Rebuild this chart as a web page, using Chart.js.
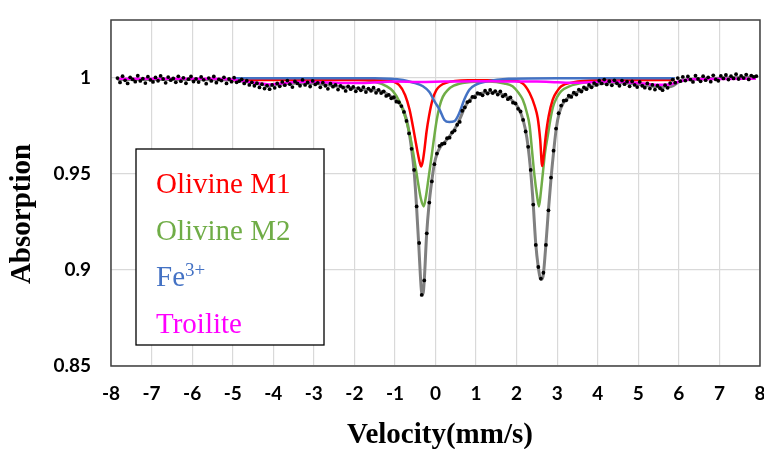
<!DOCTYPE html>
<html><head><meta charset="utf-8">
<script src="https://cdn.jsdelivr.net/npm/chart.js@4.4.0/dist/chart.umd.min.js"></script>
<style>html,body{margin:0;padding:0;background:#fff;}</style>
</head><body>
<canvas id="c" width="764" height="449" style="display:block;width:764px;height:449px"></canvas>
<script>
// ---- data ----
const xTicks = [-8,-7,-6,-5,-4,-3,-2,-1,0,1,2,3,4,5,6,7,8];
const yTicks = [0.85,0.9,0.95,1];
// channel velocities: first channel and channel width (mm/s)
const velStart = -7.84, velStep = 0.0625;
const measured = [
 0.9998,0.9975,1.0008,0.9986,0.9970,1.0002,0.9991,0.9979,1.0010,0.9983,0.9995,0.9972,1.0005,0.9988,0.9978,1.0001,
 0.9984,1.0009,0.9993,0.9973,1.0003,0.9987,0.9996,0.9976,1.0007,0.9982,0.9999,0.9971,0.9992,1.0006,0.9980,0.9994,
 0.9977,1.0004,0.9989,0.9969,0.9998,0.9983,1.0006,0.9974,0.9991,0.9985,1.0002,0.9970,0.9993,0.9979,1.0000,0.9976,
 0.9982,0.9991,0.9970,0.9984,0.9962,0.9976,0.9958,0.9971,0.9949,0.9966,0.9943,0.9958,0.9940,0.9962,0.9947,0.9970,
 0.9955,0.9978,0.9961,0.9985,0.9966,0.9951,0.9980,0.9970,0.9958,0.9988,0.9962,0.9975,0.9954,0.9983,0.9965,0.9973,
 0.9950,0.9974,0.9958,0.9942,0.9969,0.9953,0.9962,0.9938,0.9957,0.9948,0.9931,0.9955,0.9940,0.9952,0.9929,0.9946,
 0.9934,0.9951,0.9925,0.9943,0.9932,0.9948,0.9921,0.9936,0.9920,0.9929,0.9905,0.9910,0.9893,0.9898,0.9875,0.9872,
 0.9852,0.9822,0.9775,0.9710,0.9630,0.9520,0.9330,0.9140,0.8870,0.8945,0.9190,0.9350,0.9460,0.9550,0.9605,0.9645,
 0.9655,0.9658,0.9685,0.9688,0.9715,0.9725,0.9755,0.9770,0.9828,0.9845,0.9873,0.9878,0.9900,0.9898,0.9920,0.9916,
 0.9908,0.9932,0.9917,0.9936,0.9920,0.9930,0.9912,0.9928,0.9903,0.9912,0.9888,0.9897,0.9870,0.9866,0.9838,0.9824,
 0.9780,0.9720,0.9640,0.9520,0.9340,0.9130,0.9015,0.8955,0.8985,0.9130,0.9310,0.9480,0.9620,0.9735,0.9815,0.9855,
 0.9880,0.9882,0.9906,0.9900,0.9922,0.9912,0.9938,0.9928,0.9950,0.9940,0.9962,0.9950,0.9972,0.9962,0.9984,0.9970,
 0.9990,0.9965,0.9982,0.9960,0.9986,0.9971,0.9958,0.9985,0.9966,0.9979,0.9955,0.9980,0.9962,0.9951,0.9978,0.9958,
 0.9948,0.9970,0.9943,0.9962,0.9938,0.9958,0.9945,0.9935,0.9961,0.9947,0.9972,0.9990,0.9974,0.9998,0.9982,1.0004,
 0.9985,1.0006,0.9990,0.9978,1.0010,0.9993,0.9981,1.0008,0.9987,1.0002,0.9979,1.0012,0.9991,0.9984,1.0009,0.9996,
 1.0014,0.9990,1.0008,0.9996,1.0018,0.9993,1.0009,0.9998,1.0016,0.9991,1.0011,1.0004,1.0008
];
const fitTotal = [[-7.84,0.9991],[-6.0,0.9991],[-5.0,0.9988],[-4.6,0.9978],[-4.3,0.9965],[-4.1,0.9958],[-3.9,0.9965],[-3.5,0.9971],[-3.0,0.9970],[-2.6,0.9960],[-2.2,0.9950],[-1.8,0.9940],[-1.5,0.9935],[-1.25,0.9922],[-1.05,0.9895],[-0.9,0.9870],[-0.8,0.9835],[-0.72,0.9785],[-0.65,0.9715],[-0.59,0.9630],[-0.53,0.9520],[-0.47,0.9340],[-0.41,0.9120],[-0.37,0.8960],[-0.34,0.8880],[-0.31,0.8875],[-0.28,0.8935],[-0.22,0.9180],[-0.16,0.9340],[-0.09,0.9465],[-0.03,0.9550],[0.04,0.9605],[0.12,0.9640],[0.25,0.9670],[0.4,0.9710],[0.52,0.9750],[0.62,0.9795],[0.72,0.9845],[0.85,0.9885],[1.0,0.9910],[1.2,0.9922],[1.45,0.9924],[1.7,0.9908],[1.9,0.9880],[2.05,0.9840],[2.16,0.9780],[2.25,0.9690],[2.33,0.9550],[2.41,0.9340],[2.47,0.9140],[2.53,0.9020],[2.60,0.8950],[2.65,0.8965],[2.71,0.9100],[2.78,0.9300],[2.85,0.9480],[2.92,0.9630],[2.98,0.9740],[3.05,0.9815],[3.15,0.9868],[3.3,0.9900],[3.5,0.9925],[3.8,0.9953],[4.1,0.9970],[4.5,0.9973],[4.9,0.9968],[5.3,0.9956],[5.6,0.9951],[5.85,0.9958],[6.0,0.9978],[6.3,0.9992],[7.0,0.9997],[7.9,1.0004]];
const olivineM1 = [[-5.0,0.9988],[-2.0,0.9988],[-1.2,0.9985],[-0.9,0.9962],[-0.75,0.9910],[-0.64,0.9834],[-0.56,0.9750],[-0.5,0.9680],[-0.44,0.9610],[-0.39,0.9560],[-0.35,0.9538],[-0.31,0.9570],[-0.27,0.9630],[-0.22,0.9720],[-0.16,0.9800],[-0.08,0.9880],[0.02,0.9935],[0.26,0.9973],[0.8,0.9986],[1.8,0.9986],[2.15,0.9970],[2.32,0.9920],[2.45,0.9850],[2.52,0.9790],[2.58,0.9680],[2.63,0.9540],[2.67,0.9600],[2.72,0.9700],[2.79,0.9800],[2.89,0.9886],[3.0,0.9930],[3.1,0.9955],[3.38,0.9975],[4.0,0.9986],[5.9,0.9988]];
const olivineM2 = [[-5.0,0.9992],[-2.0,0.9990],[-1.5,0.9978],[-1.2,0.9955],[-1.05,0.9930],[-0.9,0.9880],[-0.8,0.9830],[-0.7,0.9760],[-0.62,0.9690],[-0.55,0.9610],[-0.48,0.9520],[-0.42,0.9440],[-0.36,0.9370],[-0.29,0.9330],[-0.23,0.9390],[-0.17,0.9480],[-0.11,0.9570],[-0.04,0.9680],[0.03,0.9780],[0.1,0.9850],[0.18,0.9900],[0.3,0.9935],[0.45,0.9958],[0.76,0.9975],[1.3,0.9980],[1.7,0.9970],[1.9,0.9955],[2.05,0.9920],[2.15,0.9886],[2.25,0.9820],[2.32,0.9750],[2.38,0.9620],[2.44,0.9490],[2.5,0.9390],[2.55,0.9330],[2.6,0.9410],[2.65,0.9510],[2.7,0.9610],[2.77,0.9700],[2.83,0.9780],[2.9,0.9850],[3.0,0.9900],[3.1,0.9930],[3.3,0.9955],[3.7,0.9975],[4.5,0.9988],[5.9,0.9992]];
const fe3 = [[-5.0,0.9997],[-1.5,0.9997],[-0.8,0.9988],[-0.56,0.9975],[-0.31,0.9955],[-0.15,0.9925],[-0.02,0.9875],[0.1,0.9834],[0.22,0.9780],[0.34,0.9769],[0.47,0.9774],[0.59,0.9817],[0.71,0.9886],[0.84,0.9938],[1.0,0.9964],[1.25,0.9980],[1.8,0.9994],[3.0,0.9997],[5.9,0.9997]];
const troilite = [[-7.8,0.9995],[-5.5,0.9994],[-5.0,0.9990],[-4.7,0.9980],[-4.4,0.9972],[-4.1,0.9965],[-3.8,0.9970],[-3.4,0.9978],[-3.0,0.9978],[-2.6,0.9975],[-2.2,0.9972],[-1.8,0.9972],[-1.4,0.9976],[-1.0,0.9980],[-0.4,0.9978],[0.2,0.9980],[1.0,0.9982],[1.8,0.9980],[2.5,0.9980],[3.0,0.9976],[3.4,0.9973],[3.8,0.9976],[4.3,0.9980],[4.8,0.9975],[5.2,0.9968],[5.5,0.9963],[5.8,0.9966],[6.0,0.9980],[6.3,0.9992],[7.9,0.9995]];
const legendItems = [["Olivine M1","#FF0000"],["Olivine M2","#70AD47"],["Fe","#4472C4","3+"],["Troilite","#FF00FF"]];

const toXY = arr => arr.map(p => ({x:p[0], y:p[1]}));
const measuredXY = measured.map((a,i) => ({x: velStart + i*velStep, y: a}));

const lineDs = (label, data, color, order, width) => ({
  label, data: toXY(data), borderColor: color, backgroundColor: color,
  borderWidth: width, pointRadius: 0, fill: false,
  cubicInterpolationMode: 'monotone', order
});

const overlay = {
  id: 'overlay',
  afterDraw(chart) {
    const {ctx, chartArea: a} = chart;
    ctx.save();
    ctx.strokeStyle = '#404040'; ctx.lineWidth = 1.5;
    ctx.strokeRect(a.left, a.top, a.right - a.left, a.bottom - a.top);
    ctx.fillStyle = '#fff';
    ctx.fillRect(136, 149, 188, 196);
    ctx.strokeStyle = '#000'; ctx.lineWidth = 1.3;
    ctx.strokeRect(136, 149, 188, 196);
    const baselines = [193, 240, 286, 333];
    ctx.textAlign = 'left'; ctx.textBaseline = 'alphabetic';
    legendItems.forEach((it, i) => {
      ctx.font = '29px "Liberation Serif", "Times New Roman", serif';
      ctx.fillStyle = it[1];
      ctx.fillText(it[0], 156, baselines[i]);
      if (it[2]) {
        const w = ctx.measureText(it[0]).width;
        ctx.font = '19px "Liberation Serif", "Times New Roman", serif';
        ctx.fillText(it[2], 156 + w, baselines[i] - 10);
      }
    });
    ctx.fillStyle = '#000';
    ctx.font = 'bold 29px "Liberation Serif", "Times New Roman", serif';
    ctx.textAlign = 'center'; ctx.textBaseline = 'middle';
    ctx.fillText('Velocity(mm/s)', 440, 436);
    ctx.translate(23, 214);
    ctx.rotate(-Math.PI/2);
    ctx.fillText('Absorption', 0, 0);
    ctx.restore();
  }
};

const tickFont = {family: 'Lato, "Open Sans", sans-serif', size: 19, weight: 'bold'};

new Chart(document.getElementById('c'), {
  type: 'line',
  data: {
    datasets: [
      {label:'Data', data: measuredXY, showLine:false, pointRadius:1.9, pointHoverRadius:0,
       pointBackgroundColor:'#000', pointBorderWidth:0, borderColor:'#000', order:1},
      lineDs('Troilite', troilite, '#FF00FF', 2, 2.5),
      lineDs('Fe3+', fe3, '#4472C4', 3, 2.5),
      lineDs('Olivine M1', olivineM1, '#FF0000', 4, 2.5),
      lineDs('Olivine M2', olivineM2, '#70AD47', 5, 2.5),
      lineDs('Fit', fitTotal, '#808080', 6, 3)
    ]
  },
  options: {
    responsive: false, animation: false, devicePixelRatio: 1,
    layout: {padding: {left: 0, right: 4, top: 20, bottom: 0}},
    plugins: {legend: {display: false}, tooltip: {enabled: false}},
    scales: {
      x: {
        type: 'linear', min: -8, max: 8,
        afterBuildTicks: s => { s.ticks = xTicks.map(v => ({value: v})); },
        afterFit: s => { s.height = 83; s.paddingLeft = 0; s.paddingRight = 0; },
        ticks: {font: tickFont, color: '#000', padding: 16, callback: v => String(v), maxRotation: 0, autoSkip: false},
        grid: {color: '#d9d9d9', lineWidth: 1.2, drawTicks: false},
        border: {display: false}
      },
      y: {
        type: 'linear', min: 0.85, max: 1.03,
        afterBuildTicks: s => { s.ticks = yTicks.map(v => ({value: v})); },
        afterFit: s => { s.width = 111; s.paddingTop = 0; s.paddingBottom = 0; },
        ticks: {font: tickFont, color: '#000', padding: 20, callback: v => String(v)},
        grid: {color: '#d9d9d9', lineWidth: 1.2, drawTicks: false},
        border: {display: false}
      }
    }
  },
  plugins: [overlay]
});
</script>
</body></html>
